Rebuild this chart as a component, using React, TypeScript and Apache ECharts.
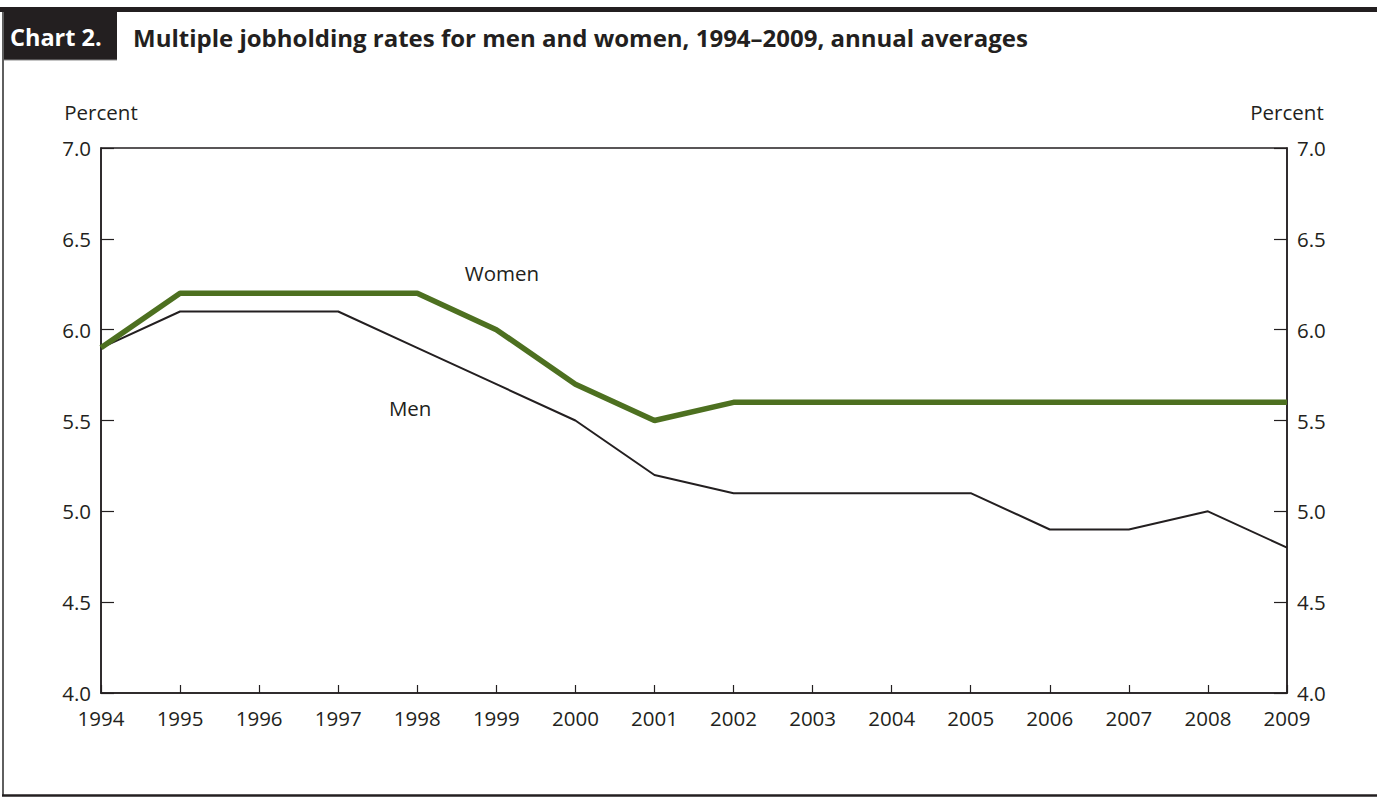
import React, { useEffect, useRef } from "react";
import * as echarts from "echarts";

const years = [1994, 1995, 1996, 1997, 1998, 1999, 2000, 2001, 2002, 2003, 2004, 2005, 2006, 2007, 2008, 2009];
const menRates = [5.9, 6.1, 6.1, 6.1, 5.9, 5.7, 5.5, 5.2, 5.1, 5.1, 5.1, 5.1, 4.9, 4.9, 5.0, 4.8];
const womenRates = [5.9, 6.2, 6.2, 6.2, 6.2, 6.0, 5.7, 5.5, 5.6, 5.6, 5.6, 5.6, 5.6, 5.6, 5.6, 5.6];
const womenLabel = { text: "Women", x: 1999.07, y: 6.31 };
const menLabel = { text: "Men", x: 1997.91, y: 5.57 };
const chartTitle = "Multiple jobholding rates for men and women, 1994\u20132009, annual averages";
const chartNumber = "Chart 2.";
const axisUnit = "Percent";

const FONT = "'Open Sans', sans-serif";
const INK = "#231f20";
const GREEN = "#4d7020";

export default function App() {
  const ref = useRef<HTMLDivElement>(null);
  useEffect(() => {
    const chart = echarts.init(ref.current!, null, { renderer: "svg" });
    const yAxisCommon = {
      type: "value" as const,
      min: 4,
      max: 7,
      interval: 0.5,
      splitLine: { show: false },
      axisLine: { show: true, lineStyle: { color: INK, width: 1.5 } },
      axisTick: { show: true, inside: true, length: 13, lineStyle: { color: INK, width: 1.2 } },
      axisLabel: {
        show: true,
        margin: 10,
        color: INK,
        fontFamily: FONT,
        fontSize: 20.5,
        formatter: (v: number) => v.toFixed(1),
      },
      name: axisUnit,
      nameLocation: "end" as const,
      nameGap: 26,
      nameTextStyle: { color: INK, fontFamily: FONT, fontSize: 20.5 },
    };
    chart.setOption({
      animation: false,
      backgroundColor: "#ffffff",
      grid: {
        left: 101,
        right: 1377 - 1287,
        top: 148,
        bottom: 797 - 693,
        show: true,
        borderColor: INK,
        borderWidth: 1.5,
        containLabel: false,
      },
      xAxis: {
        type: "value",
        min: 1994,
        max: 2009,
        interval: 1,
        splitLine: { show: false },
        axisLine: { show: true, lineStyle: { color: INK, width: 1.5 } },
        axisTick: { show: true, inside: true, length: 8, lineStyle: { color: INK, width: 1.2 } },
        axisLabel: {
          margin: 14,
          color: INK,
          fontFamily: FONT,
          fontSize: 20.5,
          formatter: (v: number) => String(v),
          showMinLabel: true,
          showMaxLabel: true,
        },
      },
      yAxis: [
        { ...yAxisCommon, position: "left" },
        { ...yAxisCommon, position: "right" },
      ],
      series: [
        {
          type: "line",
          name: "Men",
          data: years.map((y, i) => [y, menRates[i]]),
          showSymbol: false,
          lineStyle: { color: INK, width: 2 },
          itemStyle: { color: INK },
          z: 2,
          markPoint: {
            symbol: "circle",
            symbolSize: 1,
            itemStyle: { color: "rgba(0,0,0,0)" },
            label: { show: true, position: "inside", color: INK, fontFamily: FONT, fontSize: 20.5, formatter: menLabel.text },
            data: [{ coord: [menLabel.x, menLabel.y], value: menLabel.text }],
          },
        },
        {
          type: "line",
          name: "Women",
          data: years.map((y, i) => [y, womenRates[i]]),
          showSymbol: false,
          lineStyle: { color: GREEN, width: 5.5 },
          itemStyle: { color: GREEN },
          z: 3,
          markPoint: {
            symbol: "circle",
            symbolSize: 1,
            itemStyle: { color: "rgba(0,0,0,0)" },
            label: { show: true, position: "inside", color: INK, fontFamily: FONT, fontSize: 20.5, formatter: womenLabel.text },
            data: [{ coord: [womenLabel.x, womenLabel.y], value: womenLabel.text }],
          },
        },
      ],
      graphic: [
        { type: "rect", shape: { x: 0, y: 7, width: 1377, height: 5 }, style: { fill: INK } },
        { type: "rect", shape: { x: 2, y: 7, width: 115, height: 53 }, style: { fill: INK } },
        { type: "line", shape: { x1: 3, y1: 60, x2: 117, y2: 60 }, style: { stroke: "#8a8a8a", lineWidth: 1 } },
        { type: "line", shape: { x1: 3, y1: 12, x2: 3, y2: 796 }, style: { stroke: "#5f5f5f", lineWidth: 2 } },
        { type: "line", shape: { x1: 2, y1: 795.5, x2: 1377, y2: 795.5 }, style: { stroke: INK, lineWidth: 2.5 } },
        {
          type: "text",
          x: 10,
          y: 37,
          style: { text: chartNumber, fill: "#ffffff", font: `bold 23.5px ${FONT}`, textVerticalAlign: "middle" },
        },
        {
          type: "text",
          x: 133,
          y: 37,
          style: { text: chartTitle, fill: INK, font: `bold 24px ${FONT}`, textVerticalAlign: "middle" },
        },
      ],
    });
    return () => chart.dispose();
  }, []);
  return (
    <div
      ref={ref}
      style={{ position: "absolute", left: 0, top: 0, width: 1377, height: 797, background: "#fff" }}
    />
  );
}
